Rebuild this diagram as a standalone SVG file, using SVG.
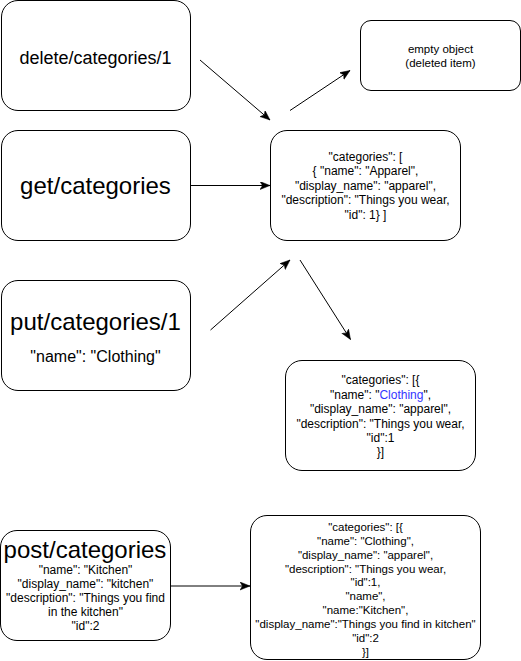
<svg xmlns="http://www.w3.org/2000/svg" width="521" height="661" viewBox="0 0 521 661">
<style>
  .box { fill: #ffffff; stroke: #000000; stroke-width: 1; }
  .t { font-family: "Liberation Sans", Arial, Helvetica, sans-serif; fill: #000000; text-anchor: middle; }
  .big { font-size: 24px; }
  .mid { font-size: 18px; }
  .s16 { font-size: 16px; }
  .s12 { font-size: 12px; }
  .s115 { font-size: 11.5px; }
  .edge { stroke: #000000; stroke-width: 1; fill: none; marker-end: url(#arrow); }
  .blue { fill: #3333ff; }
</style>
<defs>
  <marker id="arrow" markerUnits="userSpaceOnUse" markerWidth="12" markerHeight="10" refX="10" refY="4" orient="auto">
    <path d="M0,0 L10,4 L0,8 L2.5,4 Z" fill="#000000" stroke="#000000" stroke-width="0.5"/>
  </marker>
</defs>
<rect width="521" height="661" fill="#ffffff"/>

<g id="node-delete">
  <rect class="box" x="1.5" y="0.5" width="189" height="110" rx="16.5" ry="16.5"/>
  <text class="t mid" x="95.5" y="64">delete/categories/1</text>
</g>

<g id="node-get">
  <rect class="box" x="1.5" y="130.5" width="189" height="110" rx="16.5" ry="16.5"/>
  <text class="t big" x="95.5" y="194">get/categories</text>
</g>

<g id="node-put">
  <rect class="box" x="1.5" y="280.5" width="189" height="110" rx="16.5" ry="16.5"/>
  <text class="t big" x="95.5" y="330">put/categories/1</text>
  <text class="t s16" x="95.5" y="362">"name": "Clothing"</text>
</g>

<g id="node-post">
  <rect class="box" x="0.5" y="530.5" width="170" height="110" rx="16.5" ry="16.5"/>
  <text class="t big" x="85" y="558">post/categories</text>
  <text class="t s12" x="85.5" y="574.3">"name": "Kitchen"</text>
  <text class="t s12" x="85.5" y="588.1">"display_name": "kitchen"</text>
  <text class="t s12" x="85.5" y="601.9">"description": "Things you find</text>
  <text class="t s12" x="85.5" y="615.7">in the kitchen"</text>
  <text class="t s12" x="85.5" y="629.5">"id":2</text>
</g>

<g id="node-empty">
  <rect class="box" x="360.5" y="20.5" width="160" height="70" rx="10.5" ry="10.5"/>
  <text class="t s115" x="440.5" y="53">empty object</text>
  <text class="t s115" x="440.5" y="66.5">(deleted item)</text>
</g>

<g id="node-categories1">
  <rect class="box" x="270.5" y="130.5" width="190" height="110" rx="16.5" ry="16.5"/>
  <text class="t s12" x="365.5" y="161">"categories": [</text>
  <text class="t s12" x="365.5" y="175.4">{ "name": "Apparel",</text>
  <text class="t s12" x="365.5" y="189.8">"display_name": "apparel",</text>
  <text class="t s12" x="365.5" y="204.2">"description": "Things you wear,</text>
  <text class="t s12" x="365.5" y="218.6">"id": 1} ]</text>
</g>

<g id="node-categories2">
  <rect class="box" x="285.5" y="360.5" width="190" height="110" rx="16.5" ry="16.5"/>
  <text class="t s12" x="380.5" y="384.3">"categories": [{</text>
  <text class="t s12" x="380.5" y="398.7">"name": "<tspan class="blue">Clothing</tspan>",</text>
  <text class="t s12" x="380.5" y="413.1">"display_name": "apparel",</text>
  <text class="t s12" x="380.5" y="427.5">"description": "Things you wear,</text>
  <text class="t s12" x="380.5" y="441.9">"id":1</text>
  <text class="t s12" x="380.5" y="456.3">}]</text>
</g>

<g id="node-categories3">
  <rect class="box" x="250.5" y="515.5" width="230" height="144" rx="16.5" ry="16.5"/>
  <text class="t s115" x="365.5" y="530.8">"categories": [{</text>
  <text class="t s115" x="365.5" y="544.7">"name": "Clothing",</text>
  <text class="t s115" x="365.5" y="558.6">"display_name": "apparel",</text>
  <text class="t s115" x="365.5" y="572.5">"description": "Things you wear,</text>
  <text class="t s115" x="365.5" y="586.4">"id":1,</text>
  <text class="t s115" x="365.5" y="600.3">"name",</text>
  <text class="t s115" x="365.5" y="614.2">"name:"Kitchen",</text>
  <text class="t s115" x="365.5" y="628.1">"display_name":"Things you find in kitchen"</text>
  <text class="t s115" x="365.5" y="642">"id":2</text>
  <text class="t s115" x="365.5" y="655.9">}]</text>
</g>

<g id="connectors">
  <line class="edge" x1="200" y1="60" x2="270" y2="120"/>
  <line class="edge" x1="290" y1="110.5" x2="350" y2="70.5"/>
  <line class="edge" x1="190.5" y1="185.5" x2="270" y2="185.5"/>
  <line class="edge" x1="210.5" y1="330" x2="290" y2="260"/>
  <line class="edge" x1="300" y1="260" x2="350.5" y2="339.5"/>
  <line class="edge" x1="170.5" y1="586" x2="250" y2="586"/>
</g>
</svg>
